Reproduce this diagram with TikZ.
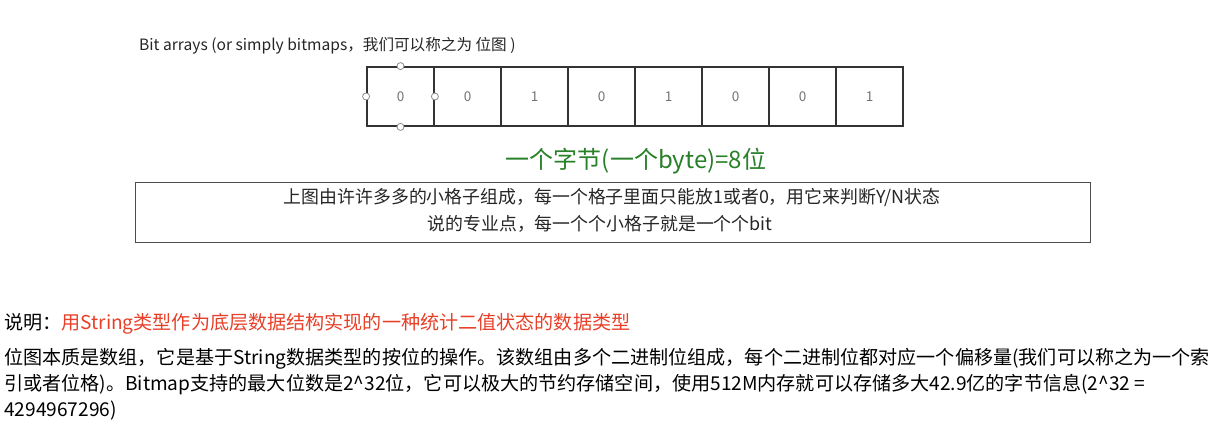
\documentclass[tikz,border=0pt]{standalone}
\usepackage{fontspec}
\setmainfont{Noto Sans CJK SC}
\begin{document}
\begin{tikzpicture}[x=1pt,y=-1pt,
  cell/.style={draw=black!80, line width=1.8pt, minimum width=67pt, minimum height=59pt, inner sep=0pt, text=black!55, font=\fontsize{13.5}{13.5}\selectfont},
  handle/.style={circle, draw=black!45, fill=white, line width=0.8pt, minimum size=7pt, inner sep=0pt},
  para/.style={anchor=base west, inner sep=0pt, font=\fontsize{19.1}{19.1}\selectfont, text=black},
  boxtext/.style={anchor=base, inner sep=0pt, font=\fontsize{17.9}{17.9}\selectfont, text=black!85}]
\useasboundingbox (0,0) rectangle (1225,435);
\fill[white] (0,0) rectangle (1225,435);
% title
\node[anchor=base west, inner sep=0pt, font=\fontsize{15.6}{15.6}\selectfont, text=black!85] (title) at (139,51) {Bit arrays (or simply bitmaps，我们可以称之为 位图 )};
% cells
\foreach \i/\v in {1/0,2/0,3/1,4/0,5/1,6/0,7/0,8/1}{
  \node[cell] (c\i) at ({367+67*(\i-0.5)},96.5) {\v};
}
% handles
\node[handle] (h1) at (c1.north) {};
\node[handle] (h2) at (c1.south) {};
\node[handle] (h3) at (c1.west) {};
\node[handle] (h4) at (c1.east) {};
% green caption
\node[anchor=base, inner sep=0pt, font=\fontsize{24}{24}\selectfont, text={rgb,255:red,40;green,128;blue,40}] (byte) at (636,169) {一个字节(一个byte)=8位};
% box
\node[draw=black!70, line width=0.8pt, minimum width=955pt, minimum height=60pt, inner sep=0pt] (box) at (612.5,212) {};
\node[boxtext] (l1) at (612,204) {上图由许许多多的小格子组成，每一个格子里面只能放1或者0，用它来判断Y/N状态};
\node[boxtext] (l2) at (600,231) {说的专业点，每一个个小格子就是一个个bit};
% paragraph
\node[para] (p0) at (4,329) {说明：\textcolor[RGB]{232,64,40}{用String类型作为底层数据结构实现的一种统计二值状态的数据类型}};
\node[para] (p1) at (4,364) {位图本质是数组，它是基于String数据类型的按位的操作。该数组由多个二进制位组成，每个二进制位都对应一个偏移量(我们可以称之为一个索};
\node[para] (p2) at (4,390) {引或者位格)。Bitmap支持的最大位数是2\^{}32位，它可以极大的节约存储空间，使用512M内存就可以存储多大42.9亿的字节信息(2\^{}32 =};
\node[para] (p3) at (4,416) {4294967296)};
\end{tikzpicture}
\end{document}
